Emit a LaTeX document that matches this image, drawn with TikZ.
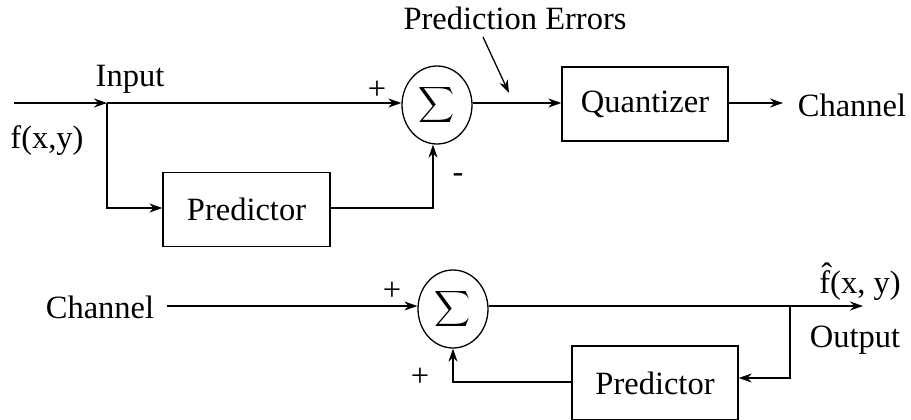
\documentclass[tikz,border=0pt]{standalone}
\usepackage{fontspec}
\usepackage{graphicx}
\setmainfont{Liberation Serif}
\usetikzlibrary{arrows.meta,shapes.geometric}
\begin{document}
\begin{tikzpicture}[x=1pt,y=-1pt,
  every node/.style={font=\fontsize{32.5}{38}\selectfont, inner sep=0pt},
  arr/.style={line width=1.3pt,-{Stealth[length=13pt,width=9pt]}},
  blk/.style={draw,line width=1.3pt,minimum width=#1,minimum height=74pt},
  sumnode/.style={draw,ellipse,line width=1.3pt,minimum width=70pt,minimum height=78pt}]
\useasboundingbox (0,0) rectangle (911,420);
% ---------- encoder ----------
\coordinate (in) at (14,103);
\coordinate (j1) at (107,103);
\coordinate (j1b) at (107,208);
\node[sumnode] (s1) at (437,105) {};
\node (sg1) at (s1.center) {\scalebox{2.5}{$\displaystyle\sum$}};
\node[blk=167pt] (p1) at (246.5,209.5) {Predictor};
\node[blk=166pt] (q) at (645,104) {Quantizer};
\node (ch1) at (852,105) {Channel};
\node (inp) at (130,79) {Input};
\node (f) at (47,141) {f(x,y)};
\node (pe) at (515,18) {Prediction Errors};
\node (plus1) at (377,90) {+};
\node (minus1) at (458,178) {-};
\coordinate (pes) at (483,37);
\coordinate (pee) at (509,93);
\coordinate (c1) at (433,208);
\draw[arr] (in) -- (j1);
\draw[arr] (j1) -- (s1.west |- j1);
\draw[arr] (j1) -- (j1b) -- (p1.west |- j1b);
\draw[arr] (p1.east |- c1) -- (c1) -- (c1 |- s1.south);
\draw[arr] (s1.east |- j1) -- (q.west |- j1);
\draw[arr] (q.east |- j1) -- (783,103) coordinate (qo);
\draw[arr] (pes) -- (pee);
% ---------- decoder ----------
\node (ch2) at (100,307) {Channel};
\node[sumnode] (s2) at (453,309) {};
\node (sg2) at (s2.center) {\scalebox{2.5}{$\displaystyle\sum$}};
\node[blk=166pt] (p2) at (655,383) {Predictor};
\node (fh) at (860,282) {\^{f}(x, y)};
\node (out) at (855,340) {Output};
\node (plus2) at (392,291) {+};
\node (plus3) at (420,377) {+};
\coordinate (l2) at (167,306);
\coordinate (o2) at (863,306);
\coordinate (j2) at (790,306);
\coordinate (j2b) at (790,378);
\coordinate (c2) at (453,382);
\draw[arr] (l2) -- (s2.west |- l2);
\draw[arr] (s2.east |- l2) -- (o2);
\draw[arr] (j2) -- (j2b) -- (p2.east |- j2b);
\draw[arr] (p2.west |- c2) -- (c2) -- (s2.south);
\end{tikzpicture}
\end{document}
